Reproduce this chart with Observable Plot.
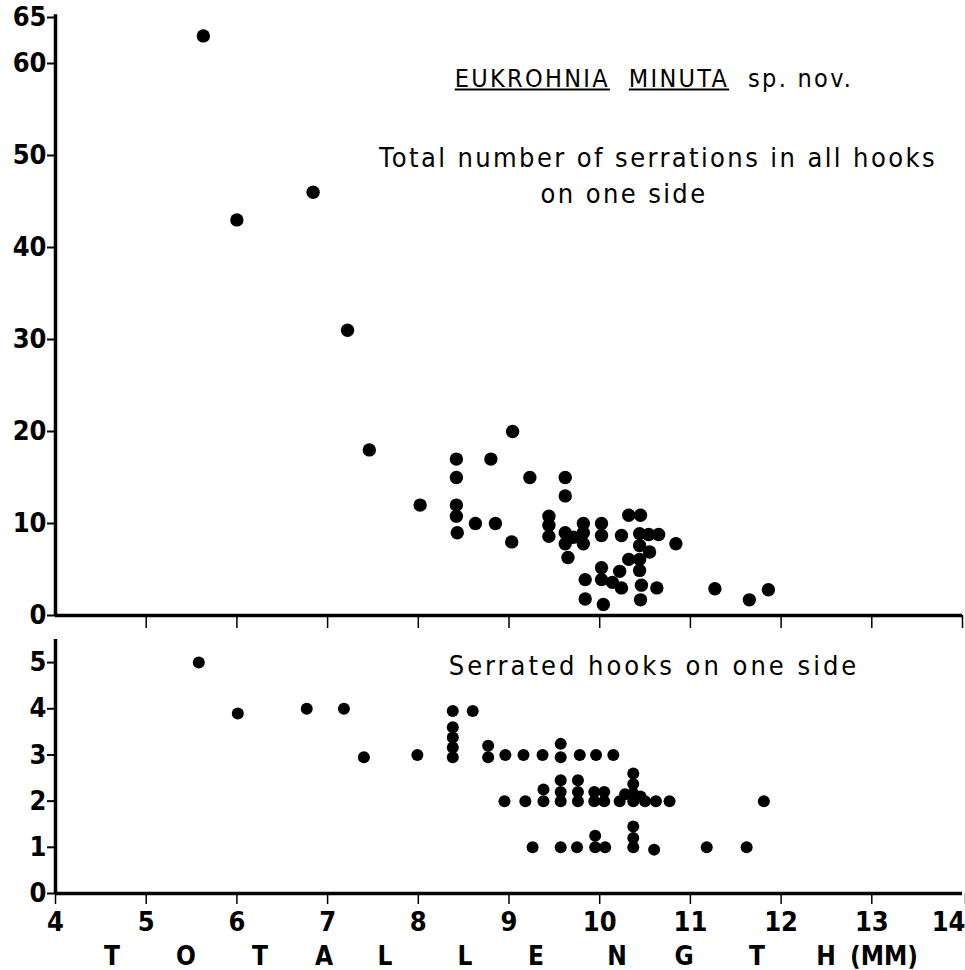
<!DOCTYPE html>
<html>
<head>
<meta charset="utf-8">
<script src="https://cdn.jsdelivr.net/npm/d3@7"></script>
<script src="https://cdn.jsdelivr.net/npm/@observablehq/plot@0.6"></script>
<style>
  html, body { margin: 0; padding: 0; background: #fff; }
  #wrap { position: relative; width: 965px; height: 970px; background: #fff; color: #000; overflow: hidden; }
  #wrap svg { display: block; }
  .note { position: absolute; transform: translate(-50%, -50%); white-space: nowrap;
          font-family: "DejaVu Sans Condensed", "DejaVu Sans", sans-serif; color: #000; }
  .ax { position: absolute; transform: translate(-50%, -50%); white-space: nowrap;
        font-family: "DejaVu Sans Condensed", "DejaVu Sans", sans-serif; font-weight: bold; font-size: 26px; }
</style>
</head>
<body>
<div id="wrap">
  <div id="top"></div>
  <div id="bottom"></div>
  <div class="note" style="left:654px; top:78px; font-size:25px; letter-spacing:2.3px;"><u>EUKROHNIA</u>&nbsp;&nbsp;<u>MINUTA</u>&nbsp;&nbsp;sp. nov.</div>
  <div class="note" style="left:658px; top:157px; font-size:27px; letter-spacing:2.4px;">Total number of serrations in all hooks</div>
  <div class="note" style="left:624px; top:193px; font-size:27px; letter-spacing:2.4px;">on one side</div>
  <div class="note" style="left:654px; top:665px; font-size:27px; letter-spacing:3px;">Serrated hooks on one side</div>
  <div class="ax" style="left:112px; top:956px;">T</div>
  <div class="ax" style="left:186px; top:956px;">O</div>
  <div class="ax" style="left:260px; top:956px;">T</div>
  <div class="ax" style="left:324px; top:956px;">A</div>
  <div class="ax" style="left:385px; top:956px;">L</div>
  <div class="ax" style="left:465px; top:956px;">L</div>
  <div class="ax" style="left:536px; top:956px;">E</div>
  <div class="ax" style="left:617px; top:956px;">N</div>
  <div class="ax" style="left:684px; top:956px;">G</div>
  <div class="ax" style="left:757px; top:956px;">T</div>
  <div class="ax" style="left:826px; top:956px;">H</div>
  <div class="ax" style="left:884px; top:956px;">(MM)</div>
</div>
<script>
// ---- data: top panel (total length mm, total serrations on one side) ----
const topLength = [5.63, 6.0, 6.84, 7.22, 7.46, 8.02, 8.42, 8.42, 8.42, 8.42, 8.43, 8.63, 8.80, 8.85, 9.04, 9.03,
  9.23, 9.44, 9.44, 9.44, 9.62, 9.62, 9.62, 9.71, 9.62, 9.65, 9.82, 9.82, 9.82, 9.84, 9.84,
  10.02, 10.02, 10.02, 10.02, 10.04, 10.14, 10.22, 10.24, 10.24, 10.32, 10.45, 10.32, 10.44, 10.44,
  10.44, 10.44, 10.46, 10.45, 10.54, 10.65, 10.55, 10.63, 10.84, 11.27, 11.65, 11.86];
const topSerrations = [63, 43, 46, 31, 18, 12, 17, 15, 12, 10.8, 9, 10, 17, 10, 20, 8,
  15, 10.8, 9.8, 8.6, 15, 13, 9, 8.5, 7.8, 6.3, 10, 9, 7.8, 3.9, 1.8,
  10, 8.7, 5.2, 3.9, 1.2, 3.6, 4.8, 8.7, 3.0, 10.9, 10.9, 6.1, 8.9, 7.6,
  6.1, 4.9, 3.3, 1.7, 8.8, 8.8, 6.9, 3.0, 7.8, 2.9, 1.7, 2.8];

// ---- data: bottom panel (total length mm, serrated hooks on one side) ----
const bottomLength = [5.58, 6.01, 6.77, 7.18, 7.40, 7.99, 8.38, 8.60, 8.38, 8.38, 8.38, 8.38, 8.77, 8.77,
  8.96, 9.16, 9.37, 9.57, 9.57, 9.78, 9.96, 10.15,
  8.95, 9.18, 9.38, 9.38, 9.57, 9.57, 9.57, 9.76, 9.76, 9.76, 9.94, 9.94, 10.05, 10.05,
  10.22, 10.28, 10.37, 10.37, 10.37, 10.37, 10.45, 10.50, 10.62, 10.77, 11.81,
  9.26, 9.57, 9.75, 9.95, 9.95, 10.06, 10.37, 10.37, 10.37, 10.60, 11.18, 11.62];
const bottomHooks = [5, 3.9, 4, 4, 2.95, 3, 3.95, 3.95, 3.6, 3.38, 3.16, 2.95, 3.2, 2.95,
  3, 3, 3, 3.24, 2.95, 3, 3, 3,
  2, 2, 2.25, 2.0, 2.45, 2.2, 2.0, 2.45, 2.2, 2.0, 2.2, 2.0, 2.2, 2.0,
  2, 2.15, 2.6, 2.37, 2.16, 2.0, 2.1, 2, 2, 2, 2,
  1, 1, 1, 1.25, 1.0, 1, 1.45, 1.2, 1.0, 0.95, 1, 1];

// ---- tick labels ----
const xTicks = [4, 5, 6, 7, 8, 9, 10, 11, 12, 13, 14];
const yTicksTop = [0, 10, 20, 30, 40, 50, 60, 65];
const yTicksBottom = [0, 1, 2, 3, 4, 5];

const topData = topLength.map((x, i) => ({x, y: topSerrations[i]}));
const bottomData = bottomLength.map((x, i) => ({x, y: bottomHooks[i]}));

const tickFont = {fontFamily: "'DejaVu Sans Condensed', 'DejaVu Sans', sans-serif", fontWeight: "bold"};
const intFmt = d3.format("d");

const topPlot = Plot.plot({
  width: 965, height: 632,
  marginLeft: 55, marginRight: 3, marginTop: 17, marginBottom: 17,
  style: {background: "white", color: "black", overflow: "visible"},
  x: {domain: [4, 14]},
  y: {domain: [0, 65]},
  marks: [
    Plot.axisY({ticks: yTicksTop, tickFormat: intFmt, tickSize: 8, tickPadding: 1, fontSize: 27, strokeWidth: 2, label: null, ...tickFont}),
    Plot.axisX({ticks: xTicks.slice(1), tickSize: 13, tickFormat: () => "", strokeWidth: 1.5, label: null}),
    Plot.ruleY([0], {strokeWidth: 3.5}),
    Plot.ruleX([4], {y1: 0, y2: 65.3, strokeWidth: 3.5}),
    Plot.dot(topData, {x: "x", y: "y", r: 6.7, fill: "black", stroke: null})
  ]
});
document.getElementById("top").append(topPlot);

const bottomPlot = Plot.plot({
  width: 965, height: 300,
  marginLeft: 55, marginRight: 3, marginTop: 7, marginBottom: 39,
  style: {background: "white", color: "black", overflow: "visible"},
  x: {domain: [4, 14]},
  y: {domain: [0, 5.5]},
  marks: [
    Plot.axisY({ticks: yTicksBottom, tickFormat: intFmt, tickSize: 8, tickPadding: 1, fontSize: 27, strokeWidth: 2, label: null, ...tickFont}),
    Plot.axisX({ticks: xTicks.slice(0, -1), tickFormat: intFmt, tickSize: 11, tickPadding: 7, fontSize: 27, strokeWidth: 1.5, label: null, ...tickFont}),
    Plot.axisX({ticks: xTicks.slice(-1), tickFormat: intFmt, tickSize: 11, tickPadding: 7, fontSize: 27, strokeWidth: 1.5, label: null, textAnchor: "end", dx: 3, ...tickFont}),
    Plot.ruleY([0], {strokeWidth: 3.5}),
    Plot.ruleX([4], {y1: 0, y2: 5.5, strokeWidth: 3.5}),
    Plot.dot(bottomData, {x: "x", y: "y", r: 6, fill: "black", stroke: null})
  ]
});
document.getElementById("bottom").append(bottomPlot);
</script>
</body>
</html>
